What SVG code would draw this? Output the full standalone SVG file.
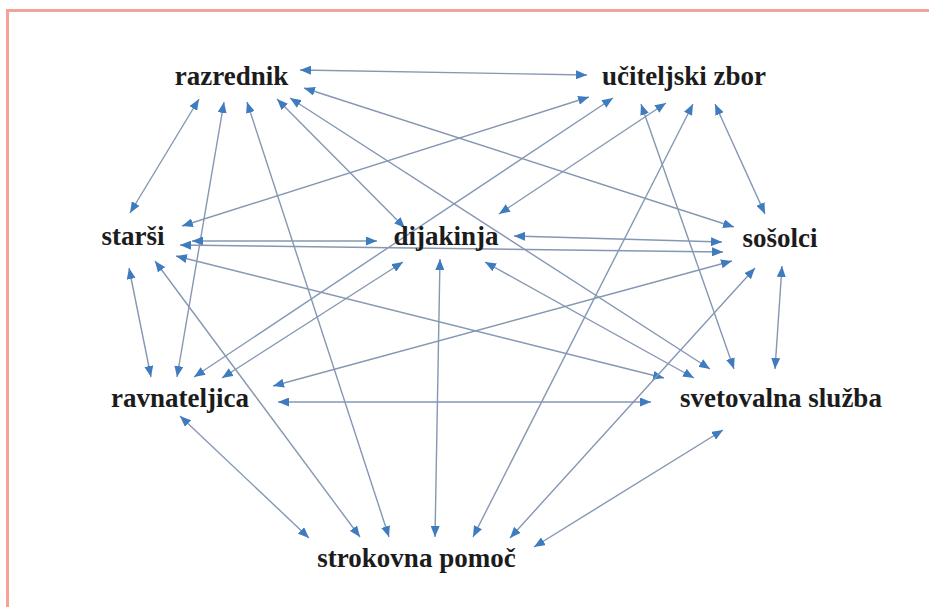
<svg xmlns="http://www.w3.org/2000/svg" width="929" height="607" viewBox="0 0 929 607">
<defs>
<style>
.lbl{font-family:"Liberation Serif","Times New Roman",serif;font-weight:bold;font-size:27px;fill:#1c1c1c;text-anchor:middle}
.e line{stroke:#8597b2;stroke-width:1.4;marker-start:url(#ah);marker-end:url(#ah)}
</style>
<marker id="ah" markerUnits="userSpaceOnUse" markerWidth="11" markerHeight="9" refX="11" refY="4.5" orient="auto-start-reverse">
<path d="M0,0 L11,4.5 L0,9 z" fill="#3e7cbf"/>
</marker>
</defs>
<rect x="0" y="0" width="929" height="607" fill="#ffffff"/>
<rect x="7.5" y="10.5" width="1000" height="700" fill="none" stroke="#f6a199" stroke-width="3"/>
<g id="connectors" class="e">
<line x1="300" y1="70" x2="587" y2="75"/>
<line x1="304" y1="88" x2="734" y2="227"/>
<line x1="199" y1="99" x2="130" y2="213"/>
<line x1="224" y1="102" x2="177" y2="377"/>
<line x1="247" y1="102" x2="389" y2="537"/>
<line x1="277" y1="99" x2="405" y2="228"/>
<line x1="290" y1="98" x2="710" y2="369"/>
<line x1="182" y1="226" x2="589" y2="97"/>
<line x1="194" y1="377" x2="613" y2="98"/>
<line x1="641" y1="104" x2="734" y2="369"/>
<line x1="666" y1="103" x2="499" y2="214"/>
<line x1="693" y1="104" x2="473" y2="537"/>
<line x1="715" y1="104" x2="765" y2="214"/>
<line x1="192" y1="241" x2="377" y2="241"/>
<line x1="180" y1="245" x2="723" y2="252"/>
<line x1="514" y1="236" x2="722" y2="242"/>
<line x1="129" y1="268" x2="151" y2="377"/>
<line x1="155" y1="261" x2="360" y2="537"/>
<line x1="176" y1="256" x2="664" y2="378"/>
<line x1="222" y1="378" x2="403" y2="262"/>
<line x1="273" y1="386" x2="732" y2="261"/>
<line x1="278" y1="402" x2="651" y2="402"/>
<line x1="180" y1="416" x2="309" y2="538"/>
<line x1="440" y1="259" x2="435" y2="537"/>
<line x1="755" y1="268" x2="510" y2="538"/>
<line x1="782" y1="266" x2="775" y2="369"/>
<line x1="723" y1="430" x2="534" y2="547"/>
<line x1="485" y1="262" x2="694" y2="378"/>
</g>
<g id="razrednik"><text class="lbl" x="231.5" y="85">razrednik</text></g>
<g id="uciteljski-zbor"><text class="lbl" x="684" y="85">učiteljski zbor</text></g>
<g id="starsi"><text class="lbl" x="133" y="245">starši</text></g>
<g id="dijakinja"><text class="lbl" x="446" y="245">dijakinja</text></g>
<g id="sosolci"><text class="lbl" x="780" y="247">sošolci</text></g>
<g id="ravnateljica"><text class="lbl" x="180" y="407">ravnateljica</text></g>
<g id="svetovalna-sluzba"><text class="lbl" x="781" y="407">svetovalna služba</text></g>
<g id="strokovna-pomoc"><text class="lbl" x="416.5" y="567">strokovna pomoč</text></g>
</svg>
